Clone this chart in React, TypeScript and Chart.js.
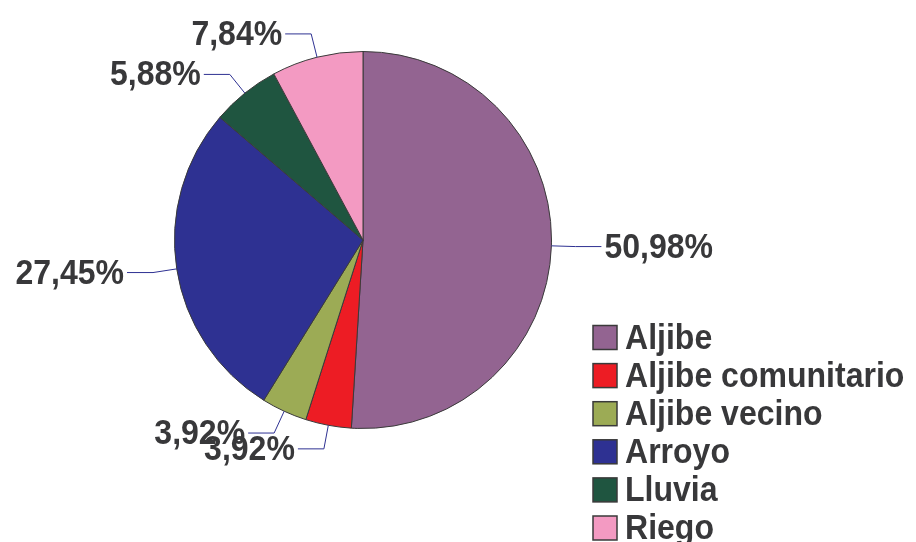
import React, { useEffect, useRef } from "react";
import { Chart, registerables } from "chart.js";

Chart.register(...registerables);

const categories = ["Aljibe", "Aljibe comunitario", "Aljibe vecino", "Arroyo", "Lluvia", "Riego"];
const values = [50.98, 3.92, 3.92, 27.45, 5.88, 7.84];
const labelTexts = ["50,98%", "3,92%", "3,92%", "27,45%", "5,88%", "7,84%"];
const colors = ["#936491", "#ED1C24", "#9CAB55", "#2E3192", "#1F5540", "#F39AC2"];

const TEXT_COLOR = "#38383a";
const LEADER_COLOR = "#2E3192";
const FONT = "bold 35px 'Liberation Sans', Arial, sans-serif";
const XSCALE = 0.915;

function drawText(ctx: CanvasRenderingContext2D, text: string, x: number, y: number, align: CanvasTextAlign) {
  ctx.save();
  ctx.translate(x, y);
  ctx.scale(XSCALE, 1);
  ctx.textAlign = align;
  ctx.textBaseline = "alphabetic";
  ctx.fillText(text, 0, 0);
  ctx.restore();
}

const labelPlugin = {
  id: "pieLabels",
  afterDraw(chart: any) {
    const ctx = chart.ctx as CanvasRenderingContext2D;
    const meta = chart.getDatasetMeta(0);
    ctx.save();
    ctx.font = FONT;
    meta.data.forEach((arc: any, i: number) => {
      const { x, y, startAngle, endAngle, outerRadius } = arc.getProps(
        ["x", "y", "startAngle", "endAngle", "outerRadius"],
        true
      );
      const mid = (startAngle + endAngle) / 2;
      const cos = Math.cos(mid);
      const sin = Math.sin(mid);
      const px = x + cos * outerRadius;
      const py = y + sin * outerRadius;
      const ex = x + cos * (outerRadius + 24);
      const ey = y + sin * (outerRadius + 24);
      const right = cos >= 0;
      const hx = ex + (right ? 26 : -26);
      ctx.strokeStyle = LEADER_COLOR;
      ctx.lineWidth = 1;
      ctx.beginPath();
      ctx.moveTo(px, py);
      ctx.lineTo(ex, ey);
      ctx.lineTo(hx, ey);
      ctx.stroke();
      ctx.fillStyle = TEXT_COLOR;
      drawText(ctx, labelTexts[i], hx + (right ? 3 : -3), ey + 11, right ? "left" : "right");
    });

    // legend
    const lx = 593;
    const ly0 = 337.5;
    const step = 38.1;
    const box = 24;
    categories.forEach((c, i) => {
      const cy = ly0 + i * step;
      ctx.fillStyle = colors[i];
      ctx.fillRect(lx, cy - box / 2, box, box);
      ctx.strokeStyle = "#3a3a3a";
      ctx.lineWidth = 1.5;
      ctx.strokeRect(lx, cy - box / 2, box, box);
      ctx.fillStyle = TEXT_COLOR;
      drawText(ctx, c, lx + box + 8, cy + 11, "left");
    });
    ctx.restore();
  },
};

export default function App() {
  const ref = useRef<HTMLCanvasElement | null>(null);
  useEffect(() => {
    if (!ref.current) return;
    const chart = new Chart(ref.current, {
      type: "pie",
      data: {
        labels: categories,
        datasets: [
          {
            data: values,
            backgroundColor: colors,
            borderColor: "#3a3a3a",
            borderWidth: 1,
          },
        ],
      },
      options: {
        animation: false,
        responsive: false,
        layout: { padding: { left: 174, right: 364, top: 51, bottom: 113 } },
        plugins: {
          legend: { display: false },
          tooltip: { enabled: false },
        },
      },
      plugins: [labelPlugin],
    });
    return () => chart.destroy();
  }, []);
  return (
    <div style={{ position: "fixed", left: 0, top: 0, width: 916, height: 542, background: "#fff" }}>
      <canvas ref={ref} width={916} height={542} style={{ width: 916, height: 542, display: "block" }} />
    </div>
  );
}
